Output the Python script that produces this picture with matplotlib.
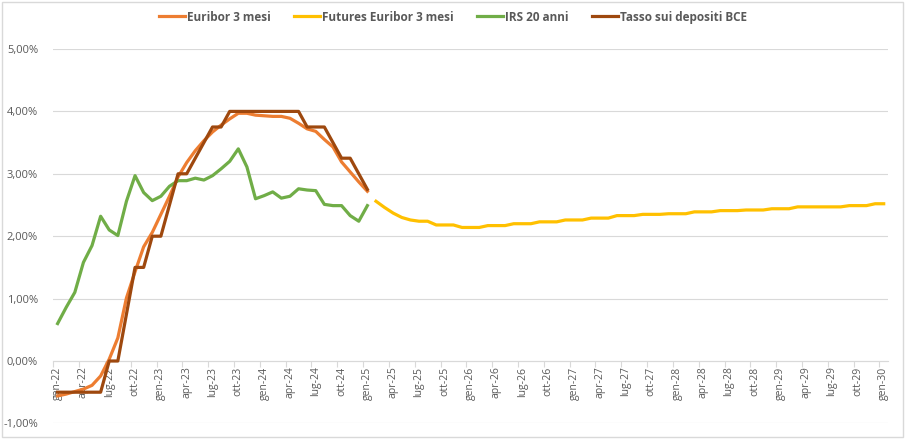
import matplotlib
matplotlib.use("Agg")
import matplotlib.pyplot as plt
from matplotlib.patches import Rectangle
import numpy as np
import pandas as pd

# monthly axis gen-22 .. gen-30
months = pd.date_range("2022-01-01", "2030-01-01", freq="MS")
mesi_it = ["gen", "feb", "mar", "apr", "mag", "giu", "lug", "ago", "set", "ott", "nov", "dic"]

# Euribor 3 mesi, gen-22 .. gen-25 (%)
euribor = [-0.56, -0.53, -0.49, -0.45, -0.39, -0.24, 0.03, 0.37, 1.01, 1.43, 1.83, 2.06,
           2.35, 2.64, 2.95, 3.18, 3.37, 3.53, 3.67, 3.78, 3.88, 3.97, 3.97, 3.94,
           3.93, 3.92, 3.92, 3.89, 3.81, 3.72, 3.68, 3.55, 3.43, 3.19, 3.03, 2.87,
           2.72]

# IRS 20 anni, gen-22 .. gen-25 (%)
irs20 = [0.60, 0.86, 1.10, 1.58, 1.85, 2.32, 2.10, 2.01, 2.56, 2.97, 2.70, 2.57,
         2.64, 2.80, 2.89, 2.89, 2.93, 2.90, 2.97, 3.08, 3.20, 3.40, 3.11, 2.60,
         2.65, 2.71, 2.61, 2.64, 2.76, 2.74, 2.73, 2.51, 2.49, 2.49, 2.33, 2.24,
         2.49]

# Tasso sui depositi BCE, gen-22 .. gen-25 (%)
bce = [-0.5, -0.5, -0.5, -0.5, -0.5, -0.5, 0.0, 0.0, 0.75, 1.5, 1.5, 2.0,
       2.0, 2.5, 3.0, 3.0, 3.25, 3.5, 3.75, 3.75, 4.0, 4.0, 4.0, 4.0,
       4.0, 4.0, 4.0, 4.0, 4.0, 3.75, 3.75, 3.75, 3.5, 3.25, 3.25, 3.0,
       2.75]

# Futures Euribor 3 mesi, feb-25 .. gen-30 (%)
futures_start = "2025-02-01"
futures = [2.56, 2.46, 2.37, 2.30, 2.26, 2.24, 2.24,
           2.18, 2.18, 2.18, 2.14, 2.14, 2.14, 2.17, 2.17, 2.17,
           2.20, 2.20, 2.20, 2.23, 2.23, 2.23, 2.26, 2.26, 2.26,
           2.29, 2.29, 2.29, 2.33, 2.33, 2.33, 2.35, 2.35, 2.35,
           2.36, 2.36, 2.36, 2.39, 2.39, 2.39, 2.41, 2.41, 2.41,
           2.42, 2.42, 2.42, 2.44, 2.44, 2.44, 2.47, 2.47, 2.47,
           2.47, 2.47, 2.47, 2.49, 2.49, 2.49, 2.52, 2.52]

labels = ["Euribor 3 mesi", "Futures Euribor 3 mesi", "IRS 20 anni", "Tasso sui depositi BCE"]
colors = ["#ED7D31", "#FFC000", "#70AD47", "#9E480E"]

x_hist = np.arange(len(euribor))
f0 = months.get_loc(pd.Timestamp(futures_start))
x_fut = np.arange(f0, f0 + len(futures))

plt.rcParams["font.family"] = ["Open Sans", "DejaVu Sans"]
text_col = "#595959"
grid_col = "#D9D9D9"

fig = plt.figure(figsize=(9.06, 4.40), dpi=100)
ax = fig.add_axes([53.3 / 906, 1 - 423.4 / 440, (888 - 53.3) / 906, (423.4 - 49) / 440])

# x axis line sits at 0% (set before tick styling, it resets ticks)
for s in ["top", "right", "left"]:
    ax.spines[s].set_visible(False)
ax.spines["bottom"].set_position(("data", 0))
ax.spines["bottom"].set_color(grid_col)
ax.spines["bottom"].set_linewidth(0.8)

lw = 2.3
ax.plot(x_hist, euribor, color=colors[0], lw=lw, label=labels[0], zorder=3)
ax.plot(x_fut, futures, color=colors[1], lw=lw, label=labels[1], zorder=3)
ax.plot(x_hist, irs20, color=colors[2], lw=lw, label=labels[2], zorder=3)
ax.plot(x_hist, bce, color=colors[3], lw=lw, label=labels[3], zorder=4)

ax.set_xlim(-0.5, len(months) - 0.5)
ax.set_ylim(-1, 5)

yt = np.arange(-1, 6, 1)
ax.set_yticks(yt)
ax.set_yticklabels([("%.2f%%" % v).replace(".", ",") for v in yt])
ax.yaxis.grid(True, color=grid_col, lw=0.8)
ax.set_axisbelow(True)
ax.tick_params(axis="y", length=0, pad=11, labelsize=8, labelcolor=text_col)

# labels every 3 months at category centres, tick marks between categories
lab_pos = np.arange(0, len(months), 3)
lab_txt = ["%s-%02d" % (mesi_it[months[i].month - 1], months[i].year % 100) for i in lab_pos]
ax.set_xticks(lab_pos)
ax.set_xticklabels(lab_txt)
ax.set_xticks(np.arange(-0.5, len(months) - 1, 3), minor=True)
ax.tick_params(axis="x", which="major", length=0, pad=4, labelrotation=90,
               labelsize=7.5, labelcolor=text_col)
ax.tick_params(axis="x", which="minor", length=4, color=grid_col, width=0.8)

leg = fig.legend(loc="upper center", bbox_to_anchor=(0.5, 1.0), ncol=4, frameon=False,
                 handlelength=2.2, handletextpad=0.15, columnspacing=2.0,
                 prop={"size": 8.5, "weight": "bold"})
for t in leg.get_texts():
    t.set_color(text_col)

fig.patches.append(Rectangle((0.002, 0.006), 0.995, 0.99, transform=fig.transFigure,
                             fill=False, edgecolor=grid_col, lw=1))

fig.savefig("out.png", dpi=100)
